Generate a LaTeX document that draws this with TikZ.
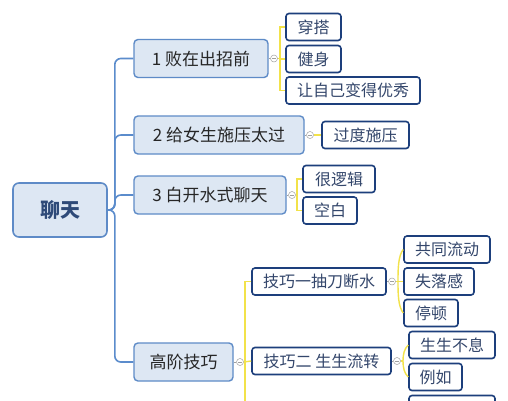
\documentclass[tikz,border=0pt]{standalone}
\usepackage{fontspec}
\setmainfont{Noto Sans CJK SC}
\definecolor{blueline}{HTML}{5B8CCC}
\definecolor{lonefill}{HTML}{DDE7F3}
\definecolor{loneborder}{HTML}{5E8BC7}
\definecolor{ltwoborder}{HTML}{1D3F7C}
\definecolor{ylw}{HTML}{F2E24A}
\definecolor{lonetext}{HTML}{262626}
\definecolor{ltwotext}{HTML}{33466B}
\definecolor{roottext}{HTML}{2E4A78}
\definecolor{knob}{HTML}{A0A0A0}
\tikzset{
  rootbox/.style={draw=loneborder, fill=lonefill, line width=1.6pt, rounded corners=6pt,
    minimum width=94pt, minimum height=54pt, inner sep=0pt, text=roottext,
    font=\fontsize{20}{22}\selectfont\bfseries},
  lone/.style={draw=loneborder, fill=lonefill, line width=1.4pt, rounded corners=4pt,
    minimum height=38pt, inner sep=0pt, text=lonetext, font=\fontsize{17}{19}\selectfont},
  ltwo/.style={draw=ltwoborder, fill=white, line width=1.6pt, rounded corners=3pt,
    minimum height=27pt, inner sep=0pt, text=ltwotext, font=\fontsize{16}{18}\selectfont},
  bline/.style={draw=blueline, line width=1.6pt, rounded corners=6pt},
  yline/.style={draw=ylw, line width=1.4pt},
  gline/.style={draw=knob, line width=0.6pt},
  knobc/.style={circle, draw=knob, fill=white, line width=0.5pt, minimum size=7pt, inner sep=0pt,
    path picture={\draw[knob, line width=0.5pt] ([xshift=-2pt]path picture bounding box.center) -- ([xshift=2pt]path picture bounding box.center);}},
}
\begin{document}
\begin{tikzpicture}[x=1pt,y=-1pt]
\useasboundingbox (0,0) rectangle (508,400);
\clip (0,0) rectangle (508,400);
\fill[white] (0,0) rectangle (508,400);

% root and level 1
\node[rootbox] (root) at (60,210) {聊天};
\node[lone, minimum width=134pt] (la) at (201,58.5) {1 败在出招前};
\node[lone, minimum width=170pt] (lb) at (219,135) {2 给女生施压太过};
\node[lone, minimum width=152pt] (lc) at (210,195) {3 白开水式聊天};
\node[lone, minimum width=99pt] (ld) at (183.5,362) {高阶技巧};

% level 2
\node[ltwo, minimum width=55pt] (a1) at (313.5,27) {穿搭};
\node[ltwo, minimum width=55pt] (a2) at (313.5,59) {健身};
\node[ltwo, minimum width=134pt] (a3) at (353,90.5) {让自己变得优秀};
\node[ltwo, minimum width=87pt] (b1) at (365.5,135) {过度施压};
\node[ltwo, minimum width=72pt] (c1) at (339,179) {很逻辑};
\node[ltwo, minimum width=54pt] (c2) at (330,210.5) {空白};
\node[ltwo, minimum width=134pt] (d1) at (319,281.5) {技巧一抽刀断水};
\node[ltwo, minimum width=139pt] (d2) at (321.5,361) {技巧二 生生流转};
\node[ltwo, minimum width=86pt] (e1) at (447,249.5) {共同流动};
\node[ltwo, minimum width=70pt] (e2) at (439,281.5) {失落感};
\node[ltwo, minimum width=54pt] (e3) at (431,313) {停顿};
\node[ltwo, minimum width=86pt] (f1) at (452,345) {生生不息};
\node[ltwo, minimum width=53pt] (f2) at (435.5,377) {例如};
\node[ltwo, minimum width=86pt] (f3) at (452,409) {};
\coordinate (dhidden) at (252,440);

% blue trunk
\foreach \t in {la,lb,lc,ld}
  \draw[bline] (root.east) -- ++(7,0) |- (\t.west);

% knobs
\node[knobc] (ka) at (274,58.5) {};
\node[knobc] (kb) at (310,135) {};
\node[knobc] (kc) at (292,195) {};
\node[knobc] (kd) at (240,362) {};
\node[knobc] (ke) at (392,281.5) {};
\node[knobc] (kf) at (397,361) {};
\draw[gline] (la.east) -- (ka.west);
\draw[gline] (lb.east) -- (kb.west);
\draw[gline] (lc.east) -- (kc.west);
\draw[gline] (ld.east) -- (kd.west);
\draw[gline] (d1.east) -- (ke.west);
\draw[gline] (d2.east) -- (kf.west);

% yellow brackets
\foreach \t in {a1,a2,a3}
  \draw[yline] (ka.east) -- (280,58.5) |- (\t.west);
\draw[yline] (kb.east) -- (b1.west);
\foreach \t in {c1,c2}
  \draw[yline] (kc.east) -- (297,195) |- (\t.west);
\draw[yline] (kd.east) -- (245,362) |- (d1.west);
\draw[yline] (kd.east) -- (d2.west);
\draw[yline] (245,362) |- (dhidden);

% curved brackets
\draw[yline] (ke.east) -- (e2.west);
\draw[yline] (e1.west) .. controls (398,256) and (398,270) .. (398,281.5)
  .. controls (398,293) and (398,306) .. (e3.west);
\draw[yline] (kf.east) -- (403,361);
\draw[yline] (f1.west) .. controls (404,349) and (403,355) .. (403,361)
  .. controls (403,367) and (404,373) .. (f2.west);
\end{tikzpicture}
\end{document}
